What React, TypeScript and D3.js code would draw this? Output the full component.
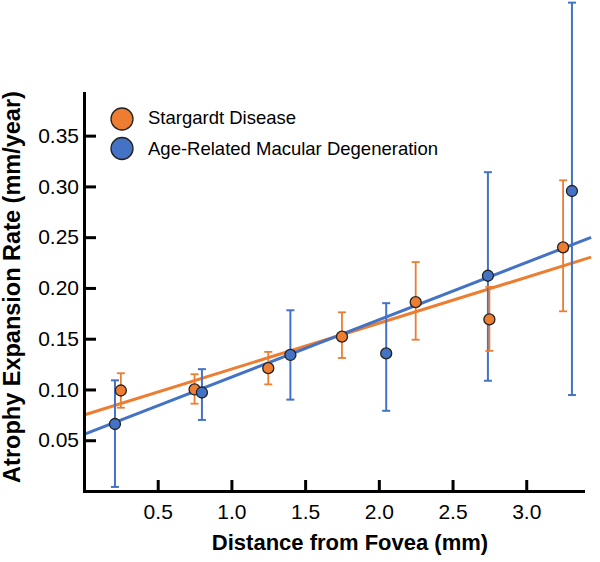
import { useEffect, useRef } from "react"
import * as d3 from "d3"

// Stargardt disease (orange)
const stargardtX = [0.25, 0.75, 1.25, 1.75, 2.25, 2.75, 3.25]
const stargardtY = [0.099, 0.1, 0.121, 0.152, 0.186, 0.169, 0.24]
const stargardtLo = [0.082, 0.086, 0.105, 0.131, 0.149, 0.138, 0.177]
const stargardtHi = [0.116, 0.115, 0.137, 0.176, 0.2255, 0.201, 0.306]

// Age-related macular degeneration (blue)
const amdX = [0.21, 0.8, 1.4, 2.05, 2.74, 3.31]
const amdY = [0.066, 0.097, 0.134, 0.1355, 0.212, 0.2955]
const amdLo = [0.004, 0.07, 0.09, 0.079, 0.1086, 0.0945]
const amdHi = [0.109, 0.12, 0.178, 0.185, 0.314, 0.481]

// linear fits: [stargardt, amd]
const seriesNames = ["Stargardt Disease", "Age-Related Macular Degeneration"]
const seriesColors = ["#ED7D31", "#4472C4"]
const fitIntercept = [0.0748, 0.0558]
const fitSlope = [0.0452, 0.0564]
const fitRange = [0, 3.44]

const xTicks = [0.5, 1.0, 1.5, 2.0, 2.5, 3.0]
const yTicks = [0.05, 0.1, 0.15, 0.2, 0.25, 0.3, 0.35]

const FONT = "'Liberation Sans', Arial, Helvetica, sans-serif"

export default function App() {
  const svgRef = useRef<SVGSVGElement>(null)

  useEffect(() => {
    if (!svgRef.current) return
    const svg = d3.select(svgRef.current)
    svg.selectAll("*").remove()

    const x = d3.scaleLinear().domain([0, 3.385]).range([84, 583])
    const y = d3.scaleLinear().domain([0, 0.392]).range([491, 93])

    const series = [
      { xs: stargardtX, ys: stargardtY, lo: stargardtLo, hi: stargardtHi, errW: 1.8 },
      { xs: amdX, ys: amdY, lo: amdLo, hi: amdHi, errW: 2 },
    ]

    // fit lines
    const line = d3
      .line<number>()
      .x((d) => x(d))
      .y((d) => y(d))
    series.forEach((_, i) => {
      const pts = fitRange.map((v) => fitIntercept[i] + fitSlope[i] * v)
      svg
        .append("path")
        .attr("d", d3.line<number>().x((_, j) => x(fitRange[j])).y((d) => y(d))(pts))
        .attr("fill", "none")
        .attr("stroke", seriesColors[i])
        .attr("stroke-width", 3)
    })
    void line

    // error bars, blue under orange
    ;[1, 0].forEach((i) => {
      const s = series[i]
      const g = svg.append("g").attr("stroke", seriesColors[i]).attr("stroke-width", s.errW)
      s.xs.forEach((xv, k) => {
        const cx = x(xv)
        g.append("line").attr("x1", cx).attr("x2", cx).attr("y1", y(s.lo[k])).attr("y2", y(s.hi[k]))
        g.append("line").attr("x1", cx - 4).attr("x2", cx + 4).attr("y1", y(s.lo[k])).attr("y2", y(s.lo[k]))
        g.append("line").attr("x1", cx - 4).attr("x2", cx + 4).attr("y1", y(s.hi[k])).attr("y2", y(s.hi[k]))
      })
    })

    // points
    series.forEach((s, i) => {
      svg
        .append("g")
        .selectAll("circle")
        .data(s.xs)
        .enter()
        .append("circle")
        .attr("cx", (d) => x(d))
        .attr("cy", (_, k) => y(s.ys[k]))
        .attr("r", 5.5)
        .attr("fill", seriesColors[i])
        .attr("stroke", "#222")
        .attr("stroke-width", 1.3)
    })

    // axes
    const xAxis = svg
      .append("g")
      .attr("transform", "translate(0,491)")
      .call(d3.axisBottom(x).tickValues(xTicks).tickFormat(d3.format(".1f")).tickSizeInner(-11).tickSizeOuter(0).tickPadding(13))
    const yAxis = svg
      .append("g")
      .attr("transform", "translate(84,0)")
      .call(d3.axisLeft(y).tickValues(yTicks).tickFormat(d3.format(".2f")).tickSizeInner(-12).tickSizeOuter(0).tickPadding(5))
    ;[xAxis, yAxis].forEach((a) => {
      a.selectAll("path").attr("stroke", "#000").attr("stroke-width", 3).attr("stroke-linecap", "square")
      a.selectAll("line").attr("stroke", "#000").attr("stroke-width", 3)
      a.selectAll("text").attr("fill", "#000").style("font-size", "21px").style("font-family", FONT)
    })

    // axis titles
    svg
      .append("text")
      .attr("x", 350)
      .attr("y", 550)
      .attr("text-anchor", "middle")
      .style("font-family", FONT)
      .style("font-size", "22px")
      .style("font-weight", "bold")
      .text("Distance from Fovea (mm)")
    svg
      .append("text")
      .attr("transform", "translate(20,287) rotate(-90)")
      .attr("text-anchor", "middle")
      .style("font-family", FONT)
      .style("font-size", "23.5px")
      .style("font-weight", "bold")
      .text("Atrophy Expansion Rate (mm/year)")

    // legend
    seriesNames.forEach((name, i) => {
      const row = svg.append("g").attr("transform", `translate(122,${119 + i * 29.5})`)
      row.append("circle").attr("r", 11).attr("fill", seriesColors[i]).attr("stroke", "#222").attr("stroke-width", 1.3)
      row
        .append("text")
        .attr("x", 26)
        .attr("y", 5 + i * 1.5)
        .style("font-family", FONT)
        .style("font-size", "18.5px")
        .text(name)
    })
  }, [])

  return (
    <svg
      ref={svgRef}
      width={600}
      height={562}
      style={{ position: "absolute", left: 0, top: 0, background: "#fff" }}
    />
  )
}
